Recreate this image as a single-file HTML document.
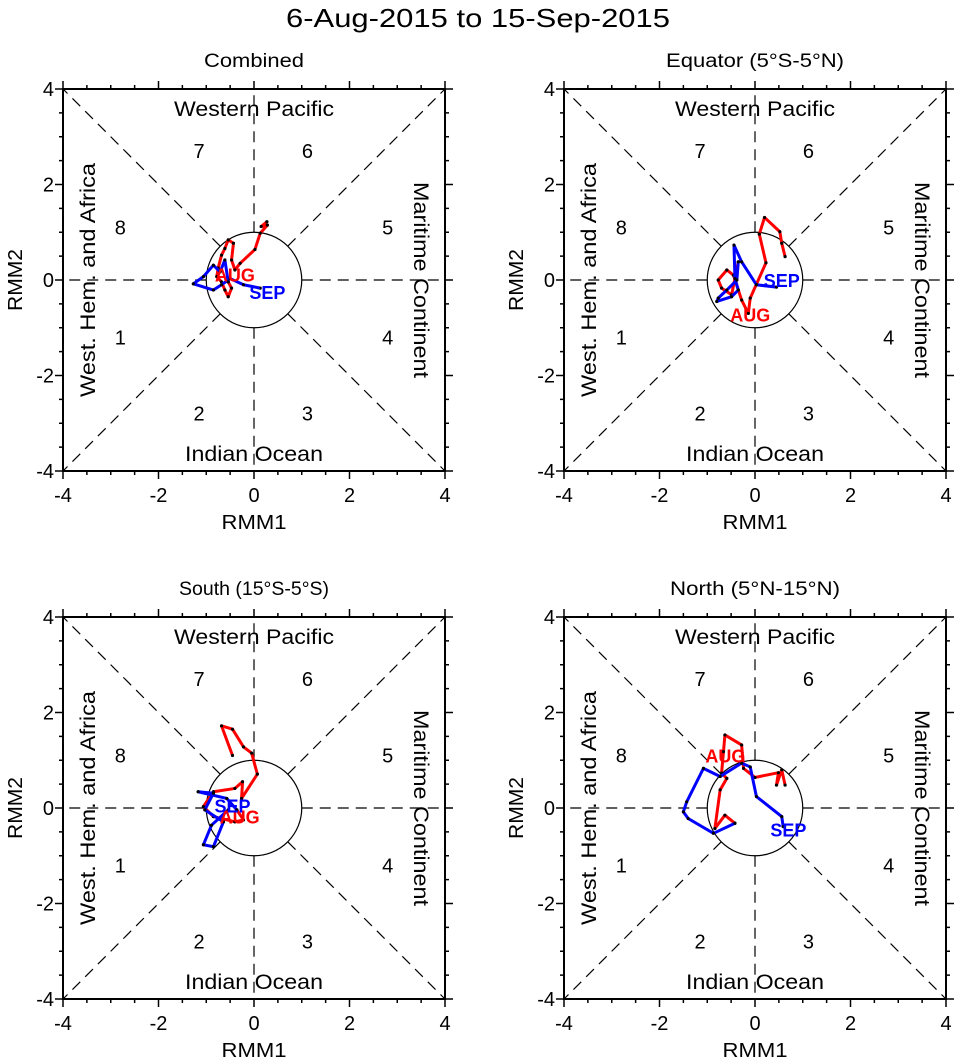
<!DOCTYPE html>
<html><head><meta charset="utf-8"><style>
html,body{margin:0;padding:0;background:#fff;}
svg{display:block;font-family:"Liberation Sans",sans-serif;}
</style></head><body>
<svg id="chart" width="956" height="1061" viewBox="0 0 956 1061">
<text x="478" y="27" font-size="26" text-anchor="middle" textLength="384" lengthAdjust="spacingAndGlyphs">6-Aug-2015 to 15-Sep-2015</text>
</svg>
<script>
// ---- data ----
const panelTitles = ["Combined", "Equator (5°S-5°N)", "South (15°S-5°S)", "North (5°N-15°N)"];
const panelTitleLen = [100, 178, 150, 170];
const tickValues = [-4, -2, 0, 2, 4];
const augX1 = [0.27,0.15,0.28,0.13,0.02,-0.29,-0.40,-0.47,-0.43,-0.54,-0.61,-0.68,-0.75,-0.78,-0.68,-0.61,-0.54,-0.47,-0.54];
const augY1 = [1.22,1.12,1.15,0.98,0.64,0.35,0.21,0.42,0.77,0.84,0.66,0.52,0.25,0.07,-0.04,-0.21,-0.35,-0.17,-0.04];
const sepX1 = [-0.54,-0.61,-0.71,-0.85,-1.06,-1.27,-0.85,-0.68,-0.50,-0.22,0.13];
const sepY1 = [-0.04,0.42,0.17,0.31,0.07,-0.08,-0.21,-0.10,0.03,-0.10,-0.17];
const augX2 = [0.63,0.56,0.52,0.20,0.09,0.23,-0.10,-0.14,-0.28,-0.45,-0.59,-0.77,-0.70,-0.49,-0.35];
const augY2 = [0.49,0.77,1.01,1.31,0.96,0.36,-0.38,-0.70,-0.42,0.10,0.21,0.00,-0.17,-0.31,0.38];
const sepX2 = [-0.35,-0.38,-0.59,-0.77,-0.80,-0.49,-0.35,-0.42,-0.44,-0.28,0.03,0.45];
const sepY2 = [0.38,0.00,-0.21,-0.38,-0.45,-0.35,-0.21,0.03,0.73,0.38,-0.10,-0.15];
const augX3 = [-0.45,-0.68,-0.45,-0.22,-0.05,0.07,-0.26,-0.24,-0.40,-0.85,-1.06,-0.85,-0.40,-0.22,-0.36];
const augY3 = [1.10,1.72,1.65,1.28,1.15,0.71,0.20,0.55,0.41,0.34,0.03,-0.18,-0.29,-0.25,-0.04];
const sepX3 = [-0.36,-0.57,-1.17,-0.85,-1.03,-0.64,-0.85,-1.06,-0.89,-0.54];
const sepY3 = [-0.04,0.20,0.34,0.31,-0.04,-0.29,-0.81,-0.77,-0.36,-0.04];
const augX4 = [0.63,0.56,0.45,0.49,0.00,-0.24,-0.28,-0.63,-0.66,-0.70,-0.59,-0.73,-0.84,-0.63,-0.42];
const augY4 = [0.48,0.80,0.48,0.74,0.64,0.83,1.32,1.53,1.18,0.73,0.62,0.38,-0.43,-0.15,-0.32];
const sepX4 = [-0.42,-0.87,-1.40,-1.50,-1.43,-1.08,-0.73,-0.28,-0.10,0.03,0.56,0.59];
const sepY4 = [-0.32,-0.53,-0.22,-0.08,0.13,0.83,0.66,0.94,0.86,0.24,-0.18,-0.39];
const augLabelPos = [[-0.40,0.12],[-0.10,-0.72],[-0.30,-0.18],[-0.62,1.10]];
const sepLabelPos = [[0.28,-0.25],[0.56,0.00],[-0.45,0.05],[0.70,-0.45]];
// ---- drawing ----
const NS = "http://www.w3.org/2000/svg";
const svg = document.getElementById("chart");
const origins = [[63,89],[564,89],[63,617],[564,617]];
const SIZE = 382;
const augXs=[augX1,augX2,augX3,augX4], augYs=[augY1,augY2,augY3,augY4];
const sepXs=[sepX1,sepX2,sepX3,sepX4], sepYs=[sepY1,sepY2,sepY3,sepY4];
function mk(tag, attrs, parent){const e=document.createElementNS(NS,tag);for(const k in attrs)e.setAttribute(k,attrs[k]);(parent||svg).appendChild(e);return e;}
origins.forEach((o,pi)=>{
  const L=o[0],T=o[1];
  const sx=v=>L+(v+4)/8*SIZE, sy=v=>T+(4-v)/8*SIZE;
  const g=mk("g",{});
  
  
  const cx=sx(0), cy=sy(0), r=sx(1)-sx(0);
  const dirs=[[1,0],[-1,0],[0,1],[0,-1],[1,1],[1,-1],[-1,1],[-1,-1]];
  dirs.forEach(d=>{
    const n=Math.hypot(d[0],d[1]);
    const l=mk("line",{x1:sx(d[0]/n),y1:sy(d[1]/n),x2:sx(4*d[0]),y2:sy(4*d[1]),stroke:"#000","stroke-width":1.2,"stroke-dasharray":"11,7"},g);
    
    
  });
  const c=mk("circle",{cx:cx,cy:cy,r:r,fill:"none",stroke:"#000","stroke-width":1.2},g);
  
  
  const fr=mk("rect",{x:L,y:T,width:SIZE,height:SIZE,fill:"none",stroke:"#000","stroke-width":2},g);
  
  
  for(let v=-4;v<=4.001;v+=0.5){
    const major=Math.abs(v%2)<0.01, len=major?8:4;
    mk("line",{x1:sx(v),y1:T+SIZE,x2:sx(v),y2:T+SIZE+len,stroke:"#000","stroke-width":1.5},g);
    mk("line",{x1:sx(v),y1:T,x2:sx(v),y2:T-len,stroke:"#000","stroke-width":1.5},g);
    mk("line",{x1:L,y1:sy(v),x2:L-len,y2:sy(v),stroke:"#000","stroke-width":1.5},g);
    mk("line",{x1:L+SIZE,y1:sy(v),x2:L+SIZE+len,y2:sy(v),stroke:"#000","stroke-width":1.5},g);
  }
  tickValues.forEach(v=>{
    const tx=mk("text",{x:sx(v),y:T+SIZE+31,"font-size":20,"text-anchor":"middle"},g);
    tx.textContent=v;
    
    
    const ty=mk("text",{x:L-9,y:sy(v)+7,"font-size":20,"text-anchor":"end"},g);
    ty.textContent=v;
    
    
  });
  const xt=mk("text",{x:cx,y:T+SIZE+58,"font-size":20,"text-anchor":"middle",textLength:65,lengthAdjust:"spacingAndGlyphs"},g);
  xt.textContent="RMM1";
  
  
  const yt=mk("text",{x:0,y:0,"font-size":20,"text-anchor":"middle",textLength:62,lengthAdjust:"spacingAndGlyphs",transform:`translate(${L-41},${cy}) rotate(-90)`},g);
  yt.textContent="RMM2";
  
  
  const pt=mk("text",{x:cx,y:T-22,"font-size":19,"text-anchor":"middle",textLength:panelTitleLen[pi],lengthAdjust:"spacingAndGlyphs"},g);
  pt.textContent=panelTitles[pi];
  
  
  const rl=[["Western Pacific",cx,T+27,160],["Indian Ocean",cx,T+372,138]];
  rl.forEach(a=>{const t=mk("text",{x:a[1],y:a[2],"font-size":21,"text-anchor":"middle",textLength:a[3],lengthAdjust:"spacingAndGlyphs"},g);t.textContent=a[0];
    
    });
  const w=mk("text",{x:0,y:0,"font-size":21,"text-anchor":"middle",textLength:234,lengthAdjust:"spacingAndGlyphs",transform:`translate(${L+32},${cy}) rotate(-90)`},g);
  w.textContent="West. Hem. and Africa";
  
  
  const m=mk("text",{x:0,y:0,"font-size":21,"text-anchor":"middle",textLength:196,lengthAdjust:"spacingAndGlyphs",transform:`translate(${L+SIZE-31},${cy}) rotate(90)`},g);
  m.textContent="Maritime Continent";
  
  
  const ph=[["7",-1.15,2.7],["6",1.12,2.7],["8",-2.8,1.1],["5",2.8,1.1],["1",-2.8,-1.2],["4",2.8,-1.2],["2",-1.15,-2.8],["3",1.12,-2.8]];
  ph.forEach(p=>{const t=mk("text",{x:sx(p[1]),y:sy(p[2])+7,"font-size":20,"text-anchor":"middle"},g);t.textContent=p[0];
    
    });
  [[augXs[pi],augYs[pi],"#ff0000","aug-trajectory"],[sepXs[pi],sepYs[pi],"#0000ff","sep-trajectory"]].forEach(s=>{
    const pts=s[0].map((x,i)=>sx(x)+","+sy(s[1][i])).join(" ");
    const pl=mk("polyline",{points:pts,fill:"none",stroke:s[2],"stroke-width":3,"stroke-linejoin":"round"},g);
    
    
    s[0].forEach((x,i)=>{const d=mk("circle",{cx:sx(x),cy:sy(s[1][i]),r:1.6,fill:"#000"},g);
      
      });
  });
  const al=mk("text",{x:sx(augLabelPos[pi][0]),y:sy(augLabelPos[pi][1])+7,"font-size":18,"font-weight":"bold",fill:"#ff0000","text-anchor":"middle"},g);
  al.textContent="AUG";
  
  
  const sl=mk("text",{x:sx(sepLabelPos[pi][0]),y:sy(sepLabelPos[pi][1])+7,"font-size":18,"font-weight":"bold",fill:"#0000ff","text-anchor":"middle"},g);
  sl.textContent="SEP";
  
  
});
</script>
</body></html>
